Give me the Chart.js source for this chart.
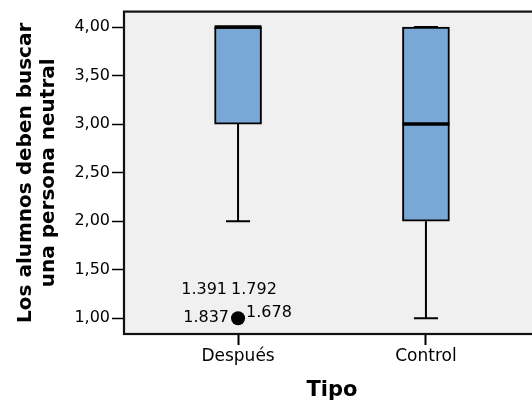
<!DOCTYPE html>
<html>
<head>
<meta charset="utf-8">
<script src="https://cdn.jsdelivr.net/npm/chart.js@4/dist/chart.umd.min.js"></script>
<style>
html, body { margin: 0; padding: 0; background: #fff; overflow: hidden; }
#wrap { width: 550px; height: 407px; position: relative; }
</style>
</head>
<body>
<div id="wrap"><canvas id="boxChart"></canvas></div>
<script>
// boxplot values per group
var categories = ['Después', 'Control'];
var whiskerLow = [2, 1];
var q1 = [3, 2];
var medians = [4, 3];
var q3 = [4, 4];
var whiskerHigh = [4, 4];

// outliers: group index, value, case labels
var outlierGroup = [0];
var outlierValue = [1];
var outlierCases = [['1.837', '1.678', '1.391', '1.792']];

var yTicks = [1, 1.5, 2, 2.5, 3, 3.5, 4];

var capHalf = 0.064;   // whisker cap half width (x units)
var boxHalf = 0.125;   // box half width (x units)

var whiskerPts = [];
var medianPts = [];
categories.forEach(function (c, i) {
  whiskerPts.push({x: i, y: q1[i]}, {x: i, y: whiskerLow[i]}, {x: i, y: null});
  whiskerPts.push({x: i - capHalf, y: whiskerLow[i]}, {x: i + capHalf, y: whiskerLow[i]}, {x: i, y: null});
  whiskerPts.push({x: i, y: q3[i]}, {x: i, y: whiskerHigh[i]}, {x: i, y: null});
  whiskerPts.push({x: i - capHalf, y: whiskerHigh[i]}, {x: i + capHalf, y: whiskerHigh[i]}, {x: i, y: null});
  medianPts.push({x: i - boxHalf, y: medians[i]}, {x: i + boxHalf, y: medians[i]}, {x: i, y: null});
});

var plotFrame = {
  id: 'plotFrame',
  beforeDraw: function (chart) {
    var a = chart.chartArea, ctx = chart.ctx;
    ctx.save();
    ctx.fillStyle = '#f0f0f0';
    ctx.fillRect(a.left, a.top, a.right - a.left, a.bottom - a.top);
    ctx.restore();
  },
  beforeDatasetsDraw: function (chart) {
    var a = chart.chartArea, ctx = chart.ctx;
    ctx.save();
    ctx.strokeStyle = '#111';
    ctx.lineWidth = 2.2;
    ctx.strokeRect(a.left, a.top, a.right - a.left, a.bottom - a.top);
    ctx.restore();
  }
};

// case numbers next to the outlier dot
var caseLabels = {
  id: 'caseLabels',
  afterDatasetsDraw: function (chart) {
    var ctx = chart.ctx;
    var meta = chart.getDatasetMeta(3);
    var spots = [[-9, 0, 'right'], [8, -5, 'left'], [-11, -28, 'right'], [-7, -28, 'left']];
    ctx.save();
    ctx.font = '16px "DejaVu Sans"';
    ctx.fillStyle = '#000';
    ctx.textBaseline = 'middle';
    meta.data.forEach(function (pt, k) {
      outlierCases[k].forEach(function (txt, j) {
        ctx.textAlign = spots[j][2];
        ctx.fillText(txt, pt.x + spots[j][0], pt.y + spots[j][1]);
      });
    });
    ctx.restore();
  }
};

Chart.defaults.font.family = '"DejaVu Sans"';
Chart.defaults.color = '#000';

var ctx = document.getElementById('boxChart').getContext('2d');
var chart = new Chart(ctx, {
  type: 'bar',
  data: {
    datasets: [{
      type: 'bar',
      data: categories.map(function (c, i) { return {x: i, y: [q1[i], q3[i]]}; }),
      backgroundColor: '#79a8d6',
      borderColor: '#000',
      borderWidth: 2,
      borderSkipped: false,
      barThickness: 47,
      order: 3
    }, {
      type: 'line',
      data: whiskerPts,
      borderColor: '#000',
      borderWidth: 2,
      pointRadius: 0,
      spanGaps: false,
      fill: false,
      order: 2
    }, {
      type: 'line',
      data: medianPts,
      borderColor: '#000',
      borderWidth: 3.5,
      pointRadius: 0,
      spanGaps: false,
      fill: false,
      order: 1
    }, {
      type: 'scatter',
      data: outlierGroup.map(function (g, k) { return {x: g, y: outlierValue[k]}; }),
      backgroundColor: '#000',
      borderWidth: 0,
      pointRadius: 7,
      order: 0
    }]
  },
  options: {
    responsive: true,
    maintainAspectRatio: false,
    animation: false,
    layout: {padding: {left: 0, top: 9, right: 10, bottom: 0}},
    plugins: {legend: {display: false}, tooltip: {enabled: false}},
    scales: {
      x: {
        type: 'linear',
        min: -0.607,
        max: 1.607,
        offset: false,
        afterBuildTicks: function (s) { s.ticks = categories.map(function (c, i) { return {value: i}; }); },
        afterFit: function (s) { s.height = 73; },
        ticks: {
          font: {size: 17},
          padding: 1,
          callback: function (v) { return categories[v]; }
        },
        grid: {drawOnChartArea: false, drawTicks: true, offset: false, tickLength: 11, tickColor: '#000', tickWidth: 2},
        border: {display: false},
        title: {display: true, text: 'Tipo', font: {size: 21, weight: 'bold'}, padding: {top: 0, bottom: 4}}
      },
      y: {
        min: 0.838,
        max: 4.159,
        afterBuildTicks: function (s) { s.ticks = yTicks.map(function (v) { return {value: v}; }); },
        afterFit: function (s) { s.width = 124; },
        ticks: {
          font: {size: 16},
          padding: 2,
          callback: function (v) { return v.toFixed(2).replace('.', ','); }
        },
        grid: {drawOnChartArea: false, drawTicks: true, tickLength: 12, tickColor: '#000', tickWidth: 1.5},
        border: {display: false},
        title: {
          display: true,
          text: ['Los alumnos deben buscar', 'una persona neutral'],
          font: {size: 20, weight: 'bold', lineHeight: 1.15},
          padding: {top: 14, bottom: 0}
        }
      }
    }
  },
  plugins: [plotFrame, caseLabels]
});
</script>
</body>
</html>
